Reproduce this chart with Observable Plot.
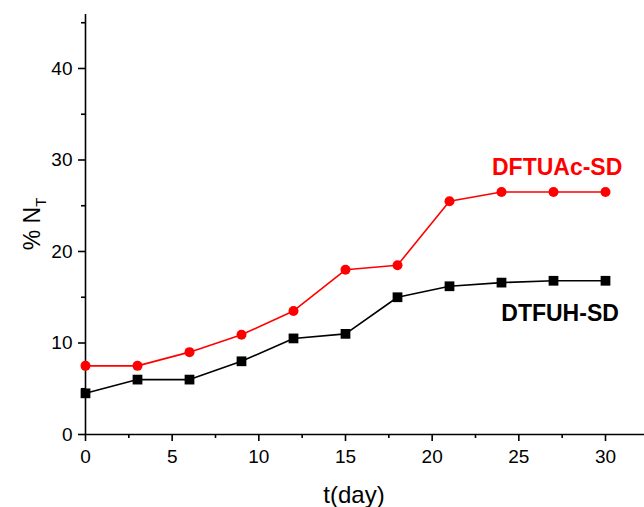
<!DOCTYPE html>
<html><head><meta charset="utf-8">
<script src="https://cdn.jsdelivr.net/npm/d3@7"></script>
<script src="https://cdn.jsdelivr.net/npm/@observablehq/plot@0.6"></script>
<style>body{margin:0;background:#fff;} svg{display:block;}</style>
</head><body><div id="chart"></div>
<script>
const days = [0, 3, 6, 9, 12, 15, 18, 21, 24, 27, 30];
const dftuac = [7.5, 7.5, 9, 10.9, 13.5, 18, 18.5, 25.5, 26.5, 26.5, 26.5];
const dtfuh = [4.5, 6, 6, 8, 10.5, 11, 15, 16.2, 16.6, 16.8, 16.8];
const xTicks = [0, 5, 10, 15, 20, 25, 30];
const xMinor = [2.5, 7.5, 12.5, 17.5, 22.5, 27.5];
const yTicks = [0, 10, 20, 30, 40];
const yMinor = [5, 15, 25, 35, 45];

const red = days.map((d, i) => ({x: d, y: dftuac[i]}));
const blk = days.map((d, i) => ({x: d, y: dtfuh[i]}));

const font = "'Liberation Sans', Arial, sans-serif";
const plot = Plot.plot({
  width: 644, height: 507,
  marginLeft: 85, marginRight: 0, marginTop: 14, marginBottom: 73,
  style: {fontFamily: font, fontSize: "19px", color: "#000", background: "#fff"},
  x: {domain: [0, 32.25], label: null},
  y: {domain: [0, 45.9], label: null},
  marks: [
    Plot.axisX({ticks: xTicks, tickSize: 7, tickPadding: 8, strokeWidth: 1.6, fontSize: 19}),
    Plot.axisX({ticks: xMinor, tickSize: 4, tickFormat: () => "", strokeWidth: 1.6}),
    Plot.axisY({ticks: yTicks, tickSize: 7, tickPadding: 6, strokeWidth: 1.6, fontSize: 19}),
    Plot.axisY({ticks: yMinor, tickSize: 4, tickFormat: () => "", strokeWidth: 1.6}),
    Plot.ruleX([0], {strokeWidth: 1.6}),
    Plot.ruleY([0], {strokeWidth: 1.6}),
    Plot.line(red, {x: "x", y: "y", stroke: "#ff0000", strokeWidth: 1.6}),
    Plot.dot(red, {x: "x", y: "y", fill: "#ff0000", r: 5, symbol: "circle"}),
    Plot.line(blk, {x: "x", y: "y", stroke: "#000", strokeWidth: 1.6}),
    Plot.dot(blk, {x: "x", y: "y", fill: "#000", r: 5.5, symbol: "square"}),
    Plot.text(["DFTUAc-SD"], {x: 30.97, y: 29.2, text: d => d, fill: "#ff0000", fontSize: 23, fontWeight: "bold", textAnchor: "end"}),
    Plot.text(["DTFUH-SD"], {x: 30.77, y: 13.2, text: d => d, fill: "#000", fontSize: 23, fontWeight: "bold", textAnchor: "end"})
  ]
});
document.getElementById("chart").appendChild(plot);
const svg = d3.select(plot);
svg.append("text").attr("x", 354).attr("y", 503).attr("text-anchor", "middle")
  .attr("font-family", font).attr("font-size", 24).text("t(day)");
const yl = svg.append("text").attr("transform", "translate(40,224) rotate(-90)")
  .attr("text-anchor", "middle").attr("font-family", font).attr("font-size", 23);
yl.append("tspan").text("% N");
yl.append("tspan").attr("font-size", 15).attr("dy", 6).text("T");
</script></body></html>
